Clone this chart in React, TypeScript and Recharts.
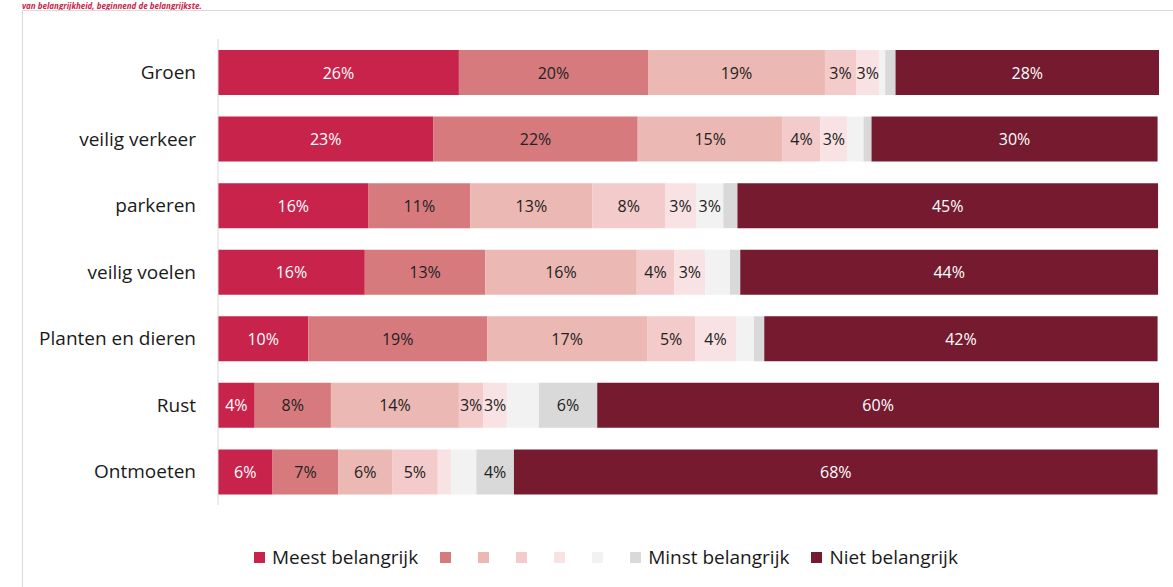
import { BarChart, Bar, XAxis, YAxis, LabelList } from "recharts";

const categories = ["Groen", "veilig verkeer", "parkeren", "veilig voelen", "Planten en dieren", "Rust", "Ontmoeten"];

const meest = [25.6, 22.9, 16.0, 15.6, 9.6, 3.9, 5.8];
const rang2 = [20.1, 21.7, 10.8, 12.8, 19.0, 8.1, 7.0];
const rang3 = [18.8, 15.4, 13.0, 16.1, 17.0, 13.6, 5.7];
const rang4 = [3.3, 4.0, 7.7, 4.0, 5.1, 2.6, 4.85];
const rang5 = [2.5, 2.9, 3.3, 3.3, 4.35, 2.5, 1.4];
const rang6 = [0.6, 1.7, 2.9, 2.6, 1.9, 3.4, 2.7];
const minst = [1.1, 0.85, 1.5, 1.1, 1.1, 6.2, 4.0];
const niet = [28.0, 30.4, 44.7, 44.4, 41.8, 59.7, 68.4];

// labels that were removed in the original chart
const hiddenLabels: Record<string, string[]> = {
  r5: ["Ontmoeten"],
  r6: ["Groen", "veilig verkeer", "veilig voelen", "Planten en dieren", "Rust", "Ontmoeten"],
  r7: ["Groen", "veilig verkeer", "parkeren", "veilig voelen", "Planten en dieren"],
};

const series = [
  { key: "r1", name: "Meest belangrijk", values: meest, color: "#C8234B", text: "#fff" },
  { key: "r2", name: "", values: rang2, color: "#D67A7E", text: "#222" },
  { key: "r3", name: "", values: rang3, color: "#EBB8B3", text: "#222" },
  { key: "r4", name: "", values: rang4, color: "#F2CBCA", text: "#222" },
  { key: "r5", name: "", values: rang5, color: "#F8E2E3", text: "#222" },
  { key: "r6", name: "", values: rang6, color: "#F2F2F2", text: "#222" },
  { key: "r7", name: "Minst belangrijk", values: minst, color: "#D9D9D9", text: "#222" },
  { key: "r8", name: "Niet belangrijk", values: niet, color: "#761A30", text: "#fff" },
];

const data = categories.map((c, i) => {
  const row: Record<string, string | number> = { cat: c };
  series.forEach((s) => (row[s.key] = s.values[i]));
  return row;
});

const font = "'Open Sans', sans-serif";

function makeLabel(key: string, fill: string) {
  return (props: any) => {
    const { x, y, width, height, value, index } = props;
    if (hiddenLabels[key]?.includes(categories[index])) return null;
    return (
      <text
        x={x + width / 2}
        y={y + height / 2}
        textAnchor="middle"
        dominantBaseline="central"
        fill={fill}
        fontSize={16}
        fontFamily={font}
      >
        {Math.round(value)}%
      </text>
    );
  };
}

export default function App() {
  return (
    <div style={{ position: "absolute", left: 0, top: 0, width: 1173, height: 587, overflow: "hidden", background: "#fff" }}>
      <div
        style={{
          position: "absolute",
          left: 22,
          top: 1,
          lineHeight: "9px",
          color: "#C8234B",
          fontStyle: "italic",
          fontWeight: "bold",
          fontSize: 8,
          fontFamily: font,
          whiteSpace: "nowrap",
        }}
      >
        van belangrijkheid, beginnend de belangrijkste.
      </div>
      <div style={{ position: "absolute", left: 22, top: 10, width: 1200, height: 620, border: "1px solid #D9D9D9" }} />
      <div style={{ position: "absolute", left: 0, top: 0 }}>
        <BarChart
          width={1173}
          height={587}
          data={data}
          layout="vertical"
          margin={{ top: 39, right: 14, bottom: 82, left: 0 }}
          barSize={45}
        >
          <XAxis type="number" domain={[0, 100]} hide />
          <YAxis
            type="category"
            dataKey="cat"
            width={218}
            tickLine={false}
            axisLine={{ stroke: "#D9D9D9" }}
            tickMargin={16}
            tick={{ fontSize: 19, fill: "#1a1a1a", fontFamily: font }}
          />
          {series.map((s) => (
            <Bar key={s.key} dataKey={s.key} stackId="a" fill={s.color} isAnimationActive={false}>
              <LabelList dataKey={s.key} content={makeLabel(s.key, s.text)} />
            </Bar>
          ))}
        </BarChart>
      </div>
      <div
        style={{
          position: "absolute",
          left: 254,
          top: 544,
          display: "flex",
          alignItems: "center",
          fontFamily: font,
          fontSize: 19,
          color: "#1a1a1a",
        }}
      >
        {series.map((s) => (
          <div key={s.key} style={{ display: "flex", alignItems: "center", marginRight: s.name ? 22 : 27 }}>
            <span style={{ width: 11, height: 11, background: s.color, display: "inline-block", marginRight: s.name ? 7 : 0 }} />
            {s.name && <span>{s.name}</span>}
          </div>
        ))}
      </div>
    </div>
  );
}
